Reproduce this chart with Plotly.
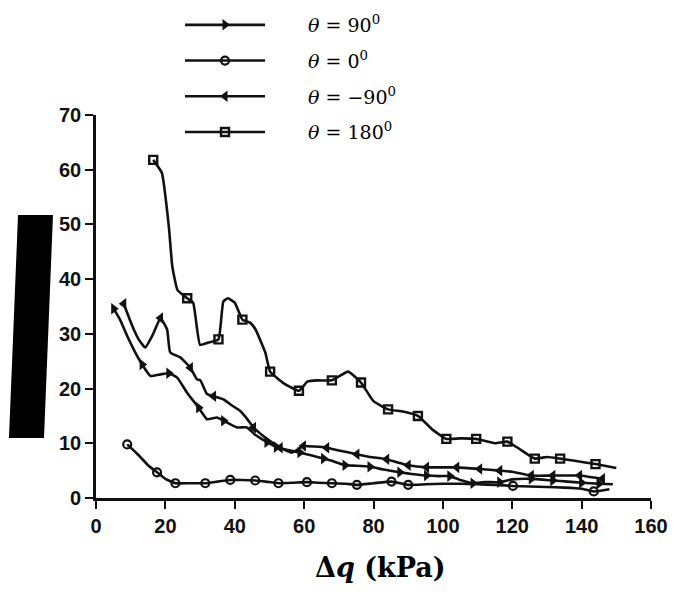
import plotly.graph_objects as go

# Δq (kPa) readings and measured response for each orientation θ
x_90 = [5.1, 7, 9, 11, 13.3, 15.7, 18.6, 21, 23.4, 26.2, 29.6, 32, 34.9, 36.8, 40.6, 43.5, 46,
        49.3, 52, 55, 58.8, 62, 65.6, 68, 71.8, 75, 79, 83, 87.6, 91, 95.3, 99, 102, 105,
        108.7, 112, 116.4, 120, 125.5, 131.7, 136, 140, 145, 149]
y_90 = [34.6, 32.5, 29.6, 27, 24.4, 22.3, 22.6, 22.8, 22, 19.3, 16.5, 14.4, 14.7, 14.1, 12.9,
        12.9, 11.5, 10.2, 9.3, 8.8, 8.3, 7.8, 7.2, 6.8, 6, 5.9, 5.7, 5.2, 4.7, 4.4, 4.1, 4, 4,
        3.3, 2.7, 2.9, 2.9, 3.4, 3.5, 3.2, 3, 2.8, 2.6, 2.5]
marks_90 = [0, 4, 7, 10, 13, 17, 18, 20, 22, 24, 26, 28, 30, 32, 34, 36, 38, 39, 41, 42]

x_0 = [9, 12, 15, 17.6, 20, 22.9, 27, 31.5, 35, 38.7, 42, 45.9, 49, 52.6, 57, 60.8, 64, 68, 72,
       75.2, 80, 85.2, 90, 95, 100, 105, 110, 115, 120.2, 125, 130, 135, 140, 143.5, 148]
y_0 = [9.8, 8, 6, 4.7, 3.5, 2.7, 2.7, 2.7, 3, 3.3, 3.3, 3.2, 3, 2.7, 2.8, 2.9, 2.8, 2.7, 2.6,
       2.4, 2.7, 3.0, 2.4, 2.5, 2.6, 2.6, 2.5, 2.4, 2.2, 2.1, 2, 1.9, 1.7, 1.2, 1.6]
marks_0 = [0, 3, 5, 7, 9, 11, 13, 15, 17, 19, 21, 22, 28, 33]

x_m90 = [8, 9.5, 10.9, 12.3, 14.2, 16.5, 18.6, 20.5, 21.4, 24.3, 27.2, 29.1, 30.1, 32, 33.9,
         36.8, 39, 41.6, 43.5, 45.4, 49.3, 53.1, 56.5, 59.8, 63, 66.5, 70, 75.2, 79, 83.8, 87,
         90, 95.3, 100, 104, 110.6, 116.4, 120, 125.5, 131.7, 139.4, 146]
y_m90 = [35.5, 33, 30.8, 29, 27.5, 30, 32.9, 30.8, 26.6, 25.7, 23.8, 21.7, 21.5, 19, 18.6, 18,
         17, 15.9, 14.5, 12.9, 10.8, 9.2, 8.3, 9.5, 9.4, 9.2, 8.7, 8, 7.5, 7.1, 6.5, 6, 5.6,
         5.6, 5.6, 5.3, 5, 4.8, 4.1, 4.1, 4.1, 3.5]
marks_m90 = [0, 6, 10, 14, 19, 21, 23, 25, 27, 29, 31, 32, 34, 35, 36, 38, 39, 40, 41]

x_180 = [16.5, 19, 21, 22, 23.5, 26.3, 28, 30, 32.4, 35.3, 36.7, 38, 40, 42.2, 44.5, 46, 48.8,
         50.2, 54, 58.5, 61, 64, 68, 72.7, 76.4, 80, 84.2, 88.5, 92.8, 97, 101, 105, 109.6,
         115, 118.6, 122, 126.5, 130, 133.8, 138, 144, 150]
y_180 = [61.8, 59.4, 49.6, 42.3, 38, 36.5, 35.7, 28, 28.4, 29, 35.9, 36.5, 35.7, 32.6, 32, 30.8,
         26.6, 23.1, 21, 19.6, 21.3, 21.5, 21.5, 23.1, 21.1, 17.7, 16.2, 15.8, 15, 12.5, 10.8,
         10.9, 10.8, 10, 10.3, 9, 7.2, 7.5, 7.2, 6.8, 6.2, 5.5]
marks_180 = [0, 5, 9, 13, 17, 19, 22, 24, 26, 28, 30, 32, 34, 36, 38, 40]

labels = ["<i>θ</i> = 90<sup>0</sup>", "<i>θ</i> = 0<sup>0</sup>",
          "<i>θ</i> = −90<sup>0</sup>", "<i>θ</i> = 180<sup>0</sup>"]
x_ticks = [0, 20, 40, 60, 80, 100, 120, 140, 160]
y_ticks = [0, 10, 20, 30, 40, 50, 60, 70]

INK = "#111111"
W, H = 681, 592
M = dict(l=96, r=30, t=115, b=94)

series = [
    (x_90, y_90, marks_90, dict(symbol="triangle-right", size=10, color=INK)),
    (x_0, y_0, marks_0, dict(symbol="circle-open", size=8, color=INK, line=dict(width=2.2, color=INK))),
    (x_m90, y_m90, marks_m90, dict(symbol="triangle-left", size=10, color=INK)),
    (x_180, y_180, marks_180, dict(symbol="square-open", size=8, color=INK, line=dict(width=2.4, color=INK))),
]

fig = go.Figure()
for xs, ys, marks, mk in series:
    fig.add_trace(go.Scatter(x=xs, y=ys, mode="lines", showlegend=False,
                             line=dict(color=INK, width=2.6, shape="spline", smoothing=0.4)))
    fig.add_trace(go.Scatter(x=[xs[i] for i in marks], y=[ys[i] for i in marks], mode="markers",
                             showlegend=False, marker=mk))

# key entries (line with marker); em spaces open a gap between swatch and label
GAP = "\u2003\u2003"
for (xs, ys, marks, mk), name in zip(series, labels):
    fig.add_trace(go.Scatter(x=[None], y=[None], mode="lines+markers", name=GAP + name,
                             line=dict(color=INK, width=2.6), marker=mk, legendgroup=name))


def px_to_paper(px, py):
    pw = W - M["l"] - M["r"]
    ph = H - M["t"] - M["b"]
    return (px - M["l"]) / pw, (H - M["b"] - py) / ph


# black bar over the left axis title
pts = [px_to_paper(18, 215), px_to_paper(53, 215), px_to_paper(44, 438), px_to_paper(9, 438)]
path = "M " + " L ".join(f"{a:.4f},{b:.4f}" for a, b in pts) + " Z"
fig.add_shape(type="path", xref="paper", yref="paper", path=path,
              fillcolor="black", line=dict(width=0), layer="above")

axis_common = dict(showline=True, linecolor=INK, linewidth=2.6, ticks="outside", ticklen=8,
                   tickwidth=2.2, tickcolor=INK, showgrid=False, zeroline=False,
                   tickfont=dict(family="Liberation Sans", size=20, color=INK, weight=700))

fig.update_layout(
    width=W, height=H, margin=dict(M, autoexpand=False),
    paper_bgcolor="white", plot_bgcolor="white",
    xaxis=dict(range=[0, 160], tickvals=x_ticks, ticktext=[str(v) for v in x_ticks], **axis_common),
    yaxis=dict(range=[0, 70], tickvals=y_ticks, ticktext=[str(v) for v in y_ticks], **axis_common),
    legend=dict(xref="container", yref="container", x=180 / W, y=1 - 6 / H,
                xanchor="left", yanchor="top",
                font=dict(family="DejaVu Serif", size=19, color="black"),
                tracegroupgap=8, itemwidth=80, bgcolor="rgba(0,0,0,0)"),
    annotations=[dict(text="<b>Δ<i>q</i> (kPa)</b>", xref="paper", yref="paper",
                      x=px_to_paper(380, 0)[0], y=px_to_paper(0, 567)[1], showarrow=False,
                      xanchor="center", yanchor="middle",
                      font=dict(family="DejaVu Serif", size=27, color="black"))],
)

fig.write_html("out.html")
